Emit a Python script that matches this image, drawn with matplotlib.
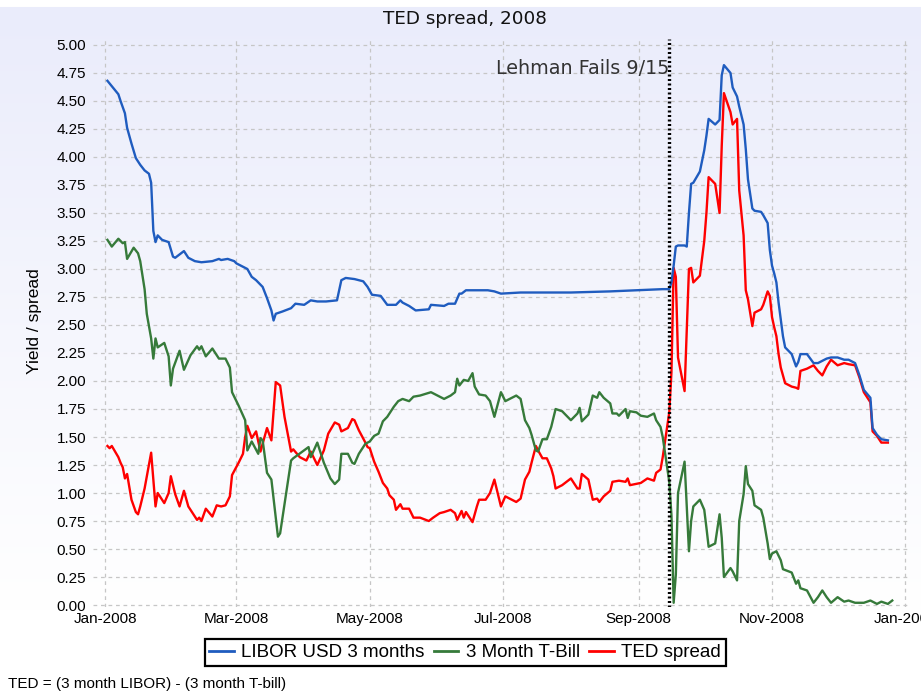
import matplotlib
matplotlib.use("Agg")
import matplotlib.pyplot as plt
import matplotlib.dates as mdates
import numpy as np
import pandas as pd

# ---------------- data ----------------
libor_dates = [
    "01-02", "01-07", "01-08", "01-10", "01-11", "01-13", "01-15", "01-17", "01-19", "01-21",
    "01-22", "01-23", "01-24", "01-25", "01-27", "01-30", "02-01", "02-02", "02-06", "02-08",
    "02-11", "02-14", "02-19", "02-22", "02-23", "02-26", "02-29", "03-01", "03-06", "03-08",
    "03-10", "03-13", "03-15", "03-17", "03-18", "03-19", "03-22", "03-26", "03-28", "04-01",
    "04-04", "04-07", "04-11", "04-16", "04-18", "04-20", "04-24", "04-28", "04-30", "05-02",
    "05-06", "05-09", "05-13", "05-15", "05-16", "05-19", "05-22", "05-28", "05-29", "06-04",
    "06-06", "06-09", "06-11", "06-12", "06-14", "06-17", "06-24", "06-27", "06-30", "07-09",
    "07-16", "08-01", "08-19", "09-12", "09-15", "09-16", "09-17", "09-18", "09-19", "09-22",
    "09-23", "09-24", "09-25", "09-26", "09-29", "10-01", "10-02", "10-03", "10-06", "10-08",
    "10-09", "10-10", "10-13", "10-14", "10-16", "10-17", "10-19", "10-20", "10-21", "10-23",
    "10-24", "10-27", "10-28", "10-30", "10-31", "11-01", "11-02", "11-03", "11-04", "11-05",
    "11-06", "11-07", "11-10", "11-12", "11-13", "11-14", "11-17", "11-20", "11-22", "11-24",
    "11-26", "11-28", "12-01", "12-04", "12-06", "12-09", "12-11", "12-13", "12-16", "12-17",
    "12-19", "12-21", "12-24",
]
libor_vals = [
    4.68, 4.56, 4.50, 4.39, 4.26, 4.12, 3.99, 3.93, 3.88, 3.85,
    3.77, 3.34, 3.24, 3.30, 3.26, 3.24, 3.11, 3.10, 3.16, 3.10,
    3.07, 3.06, 3.07, 3.09, 3.08, 3.09, 3.07, 3.05, 3.00, 2.93,
    2.90, 2.84, 2.74, 2.63, 2.54, 2.60, 2.62, 2.65, 2.69, 2.68,
    2.72, 2.71, 2.71, 2.72, 2.90, 2.92, 2.91, 2.89, 2.84, 2.77,
    2.76, 2.68, 2.68, 2.72, 2.70, 2.67, 2.63, 2.64, 2.68, 2.67,
    2.69, 2.69, 2.78, 2.78, 2.81, 2.81, 2.81, 2.80, 2.78, 2.79,
    2.79, 2.79, 2.80, 2.82, 2.82, 2.88, 3.03, 3.20, 3.21, 3.21,
    3.20, 3.50, 3.76, 3.77, 3.87, 4.06, 4.19, 4.34, 4.29, 4.33,
    4.73, 4.82, 4.75, 4.62, 4.54, 4.45, 4.29, 4.07, 3.80, 3.54,
    3.52, 3.51, 3.48, 3.41, 3.17, 3.03, 2.96, 2.88, 2.70, 2.55,
    2.40, 2.30, 2.24, 2.13, 2.17, 2.24, 2.24, 2.16, 2.16, 2.18,
    2.20, 2.21, 2.21, 2.19, 2.19, 2.16, 2.05, 1.92, 1.85, 1.58,
    1.52, 1.48, 1.47,
]

tbill_dates = [
    "01-02", "01-04", "01-07", "01-09", "01-10", "01-11", "01-14", "01-16", "01-17", "01-19",
    "01-20", "01-22", "01-23", "01-24", "01-25", "01-28", "01-30", "01-31", "02-01", "02-04",
    "02-06", "02-09", "02-12", "02-13", "02-14", "02-16", "02-19", "02-22", "02-25", "02-27",
    "02-28", "03-02", "03-05", "03-06", "03-08", "03-11", "03-12", "03-13", "03-15", "03-17",
    "03-20", "03-21", "03-26", "03-27", "04-03", "04-04", "04-07", "04-10", "04-13", "04-15",
    "04-17", "04-18", "04-21", "04-23", "04-24", "04-26", "04-29", "05-01", "05-03", "05-05",
    "05-07", "05-09", "05-12", "05-14", "05-16", "05-19", "05-21", "05-24", "05-29", "06-01",
    "06-04", "06-07", "06-09", "06-10", "06-11", "06-13", "06-15", "06-17", "06-18", "06-20",
    "06-23", "06-25", "06-27", "06-30", "07-02", "07-07", "07-09", "07-11", "07-13", "07-14",
    "07-16", "07-17", "07-19", "07-21", "07-23", "07-25", "07-28", "08-01", "08-04", "08-05",
    "08-06", "08-09", "08-11", "08-13", "08-14", "08-16", "08-19", "08-20", "08-22", "08-23",
    "08-26", "08-27", "08-28", "08-31", "09-02", "09-05", "09-08", "09-09", "09-11", "09-12",
    "09-15", "09-16", "09-17", "09-18", "09-19", "09-22", "09-24", "09-25", "09-26", "09-29",
    "10-01", "10-02", "10-03", "10-06", "10-08", "10-09", "10-10", "10-13", "10-14", "10-16",
    "10-17", "10-19", "10-20", "10-21", "10-23", "10-24", "10-27", "10-28", "10-30", "10-31",
    "11-01", "11-03", "11-05", "11-06", "11-10", "11-12", "11-13", "11-14", "11-17", "11-20",
    "11-22", "11-24", "11-26", "11-28", "12-01", "12-04", "12-06", "12-09", "12-13", "12-16",
    "12-19", "12-21", "12-24", "12-26",
]
tbill_vals = [
    3.26, 3.20, 3.27, 3.23, 3.24, 3.09, 3.19, 3.14, 3.07, 2.82,
    2.60, 2.38, 2.20, 2.38, 2.30, 2.34, 2.22, 1.96, 2.11, 2.27,
    2.10, 2.23, 2.31, 2.28, 2.31, 2.22, 2.29, 2.20, 2.20, 2.12,
    1.90, 1.78, 1.65, 1.38, 1.46, 1.35, 1.49, 1.47, 1.18, 1.12,
    0.61, 0.64, 1.29, 1.31, 1.41, 1.32, 1.45, 1.27, 1.13, 1.08,
    1.12, 1.35, 1.35, 1.27, 1.26, 1.35, 1.44, 1.46, 1.51, 1.53,
    1.64, 1.68, 1.77, 1.82, 1.84, 1.82, 1.86, 1.87, 1.90, 1.87,
    1.84, 1.87, 1.90, 2.02, 1.96, 2.01, 2.00, 2.07, 1.95, 1.88,
    1.87, 1.82, 1.68, 1.90, 1.82, 1.87, 1.84, 1.65, 1.58, 1.52,
    1.38, 1.37, 1.48, 1.48, 1.59, 1.75, 1.73, 1.65, 1.71, 1.76,
    1.64, 1.70, 1.87, 1.85, 1.90, 1.85, 1.80, 1.71, 1.71, 1.69,
    1.75, 1.67, 1.73, 1.72, 1.69, 1.68, 1.71, 1.65, 1.59, 1.50,
    1.10, 0.80, 0.02, 0.27, 1.00, 1.28, 0.48, 0.75, 0.88, 0.94,
    0.85, 0.69, 0.52, 0.55, 0.81, 0.60, 0.25, 0.33, 0.30, 0.22,
    0.75, 0.99, 1.24, 1.08, 1.02, 0.89, 0.85, 0.78, 0.55, 0.41,
    0.46, 0.48, 0.40, 0.32, 0.29, 0.19, 0.22, 0.15, 0.13, 0.02,
    0.07, 0.13, 0.07, 0.02, 0.07, 0.03, 0.04, 0.02, 0.02, 0.04,
    0.01, 0.03, 0.01, 0.04,
]

ted_dates = [
    "01-02", "01-03", "01-04", "01-07", "01-08", "01-09", "01-10", "01-11", "01-13", "01-15",
    "01-16", "01-17", "01-19", "01-22", "01-24", "01-25", "01-28", "01-30", "01-31", "02-02",
    "02-04", "02-06", "02-08", "02-12", "02-13", "02-14", "02-16", "02-19", "02-21", "02-23",
    "02-25", "02-27", "02-28", "03-02", "03-04", "03-05", "03-06", "03-08", "03-10", "03-12",
    "03-15", "03-17", "03-19", "03-21", "03-23", "03-26", "03-27", "03-30", "04-02", "04-04",
    "04-07", "04-10", "04-12", "04-15", "04-17", "04-18", "04-21", "04-23", "04-24", "04-26",
    "04-29", "04-30", "05-01", "05-03", "05-05", "05-07", "05-09", "05-10", "05-12", "05-13",
    "05-15", "05-16", "05-19", "05-21", "05-24", "05-28", "05-30", "06-02", "06-04", "06-07",
    "06-09", "06-10", "06-12", "06-13", "06-14", "06-17", "06-19", "06-20", "06-23", "06-25",
    "06-27", "06-30", "07-02", "07-07", "07-09", "07-11", "07-13", "07-14", "07-16", "07-17",
    "07-19", "07-21", "07-23", "07-24", "07-25", "07-28", "08-01", "08-04", "08-05", "08-06",
    "08-09", "08-11", "08-13", "08-14", "08-16", "08-19", "08-20", "08-23", "08-26", "08-27",
    "08-28", "09-02", "09-05", "09-08", "09-09", "09-11", "09-12", "09-15", "09-16", "09-17",
    "09-18", "09-19", "09-22", "09-24", "09-25", "09-26", "09-29", "10-01", "10-02", "10-03",
    "10-06", "10-08", "10-09", "10-10", "10-13", "10-14", "10-16", "10-17", "10-19", "10-20",
    "10-21", "10-23", "10-24", "10-27", "10-28", "10-30", "10-31", "11-01", "11-02", "11-03",
    "11-04", "11-05", "11-07", "11-10", "11-12", "11-13", "11-14", "11-17", "11-20", "11-22",
    "11-24", "11-26", "11-28", "12-01", "12-04", "12-06", "12-09", "12-11", "12-13", "12-16",
    "12-17", "12-19", "12-21", "12-24",
]
ted_vals = [
    1.42, 1.40, 1.42, 1.32, 1.27, 1.23, 1.13, 1.17, 0.94, 0.83,
    0.81, 0.88, 1.04, 1.36, 0.88, 1.00, 0.91, 1.00, 1.15, 0.99,
    0.88, 1.02, 0.88, 0.76, 0.78, 0.75, 0.86, 0.79, 0.89, 0.88,
    0.89, 0.97, 1.16, 1.27, 1.35, 1.50, 1.60, 1.49, 1.55, 1.37,
    1.58, 1.47, 1.99, 1.96, 1.68, 1.37, 1.39, 1.32, 1.29, 1.37,
    1.25, 1.38, 1.53, 1.63, 1.61, 1.55, 1.58, 1.66, 1.65, 1.56,
    1.45, 1.41, 1.40, 1.28, 1.19, 1.09, 1.04, 0.98, 0.94, 0.85,
    0.90, 0.86, 0.86, 0.78, 0.78, 0.75, 0.78, 0.82, 0.83, 0.85,
    0.82, 0.76, 0.84, 0.78, 0.83, 0.74, 0.88, 0.94, 0.94, 1.00,
    1.12, 0.88, 0.97, 0.92, 0.95, 1.12, 1.19, 1.27, 1.42, 1.38,
    1.31, 1.31, 1.22, 1.15, 1.04, 1.07, 1.13, 1.04, 1.04, 1.17,
    1.12, 0.94, 0.95, 0.92, 0.97, 1.02, 1.10, 1.11, 1.10, 1.13,
    1.07, 1.09, 1.13, 1.11, 1.18, 1.21, 1.32, 1.72, 2.08, 3.01,
    2.93, 2.21, 1.91, 3.00, 3.01, 2.88, 2.94, 3.25, 3.50, 3.82,
    3.76, 3.50, 4.10, 4.57, 4.40, 4.29, 4.34, 3.70, 3.30, 2.81,
    2.73, 2.49, 2.61, 2.64, 2.68, 2.80, 2.76, 2.57, 2.48, 2.40,
    2.24, 2.12, 1.98, 1.95, 1.94, 1.93, 2.09, 2.11, 2.14, 2.09,
    2.05, 2.13, 2.19, 2.14, 2.16, 2.15, 2.14, 2.03, 1.90, 1.81,
    1.55, 1.51, 1.45, 1.45,
]

series_labels = ["LIBOR USD 3 months", "3 Month T-Bill", "TED spread"]
tick_months = ["2008-01-01", "2008-03-01", "2008-05-01", "2008-07-01",
               "2008-09-01", "2008-11-01", "2009-01-01"]
event_date = "2008-09-15"
event_label = "Lehman Fails 9/15"
title_text = "TED spread, 2008"
ylabel_text = "Yield / spread"
note_text = "TED = (3 month LIBOR) - (3 month T-bill)"


def to_dates(mmdd):
    return pd.to_datetime(["2008-" + s for s in mmdd])


# ---------------- figure ----------------
W, H = 921, 693
fig = plt.figure(figsize=(W / 100, H / 100), dpi=100)

# background gradient (lavender at top fading to white)
bg = fig.add_axes([0, 0, 1, 1], zorder=-10)
bg.axis("off")
rows = np.arange(H)
top_c = np.array([234, 236, 251]) / 255.0
t = np.clip((rows - 7) / (610 - 7), 0, 1)[:, None]
grad = top_c * (1 - t) + np.ones(3) * t
grad[:7] = 1.0
img = np.repeat(grad[:, None, :], 4, axis=1)
bg.imshow(img, aspect="auto", extent=[0, 1, 0, 1], origin="upper", interpolation="bilinear")
bg.set_xlim(0, 1)
bg.set_ylim(0, 1)

# main axes (pixel geometry from reference)
ax_left, ax_right, ax_top, ax_bot = 93, 908, 38.8, 606.7
ax = fig.add_axes([ax_left / W, (H - ax_bot) / H, (ax_right - ax_left) / W, (ax_bot - ax_top) / H])
ax.patch.set_alpha(0)
for sp in ax.spines.values():
    sp.set_visible(False)

c_blue, c_green, c_red = "#1f5cbf", "#367a3a", "#ff0000"
lw = 1.7
l_red, = ax.plot(to_dates(ted_dates), ted_vals, color=c_red, lw=lw, zorder=3, solid_joinstyle="round")
l_green, = ax.plot(to_dates(tbill_dates), tbill_vals, color=c_green, lw=lw, zorder=3, solid_joinstyle="round")
l_blue, = ax.plot(to_dates(libor_dates), libor_vals, color=c_blue, lw=lw, zorder=3.5, solid_joinstyle="round")

x0 = pd.Timestamp("2008-01-01") - pd.Timedelta(days=5.6)
x1 = pd.Timestamp("2008-01-01") + pd.Timedelta(days=367.2)
ax.set_xlim(x0, x1)
ax.set_ylim(-0.015, 5.055)

ax.set_yticks(np.arange(0, 5.01, 0.25))
ax.yaxis.set_major_formatter(matplotlib.ticker.FormatStrFormatter("%.2f"))
ax.set_xticks(pd.to_datetime(tick_months))
ax.xaxis.set_major_formatter(mdates.DateFormatter("%b-%Y"))
ax.tick_params(axis="both", length=0, labelsize=11, colors="black")
ax.tick_params(axis="y", pad=5)
ax.tick_params(axis="x", pad=4)
for lab in ax.get_xticklabels() + ax.get_yticklabels():
    lab.set_family(["Liberation Sans", "DejaVu Sans"])

ax.grid(True, color="#c6c6c6", linestyle=(0, (3, 3)), linewidth=0.9, zorder=0)
ax.set_axisbelow(True)

# Lehman line and label
ev = pd.Timestamp(event_date)
ax.axvline(ev, color="black", lw=2.4, linestyle=(0, (0.6, 0.75)), zorder=5, solid_capstyle="butt",
           dash_capstyle="butt")
ax.text(ev, 4.74, event_label, ha="right", va="baseline", fontsize=13.8, color="#333333",
        family=["DejaVu Sans"], zorder=6)

# title, y label, footnote
fig.text(465 / W, 1 - 19 / H, title_text, ha="center", va="center", fontsize=13.2,
         family=["DejaVu Sans"], color="#111111")
fig.text(35 / W, 1 - 321 / H, ylabel_text, ha="center", va="center", rotation=90, fontsize=12.5,
         family=["Liberation Sans", "DejaVu Sans"])
fig.text(8 / W, 1 - 684 / H, note_text, ha="left", va="center", fontsize=11,
         family=["Liberation Sans", "DejaVu Sans"])

leg = fig.legend([l_blue, l_green, l_red], series_labels, loc="center",
                 bbox_to_anchor=(465 / W, 1 - 652.5 / H), ncol=3, frameon=True, fancybox=False,
                 edgecolor="black", facecolor="white", framealpha=1, handlelength=1.3,
                 handletextpad=0.4, columnspacing=0.5, borderpad=0.25, borderaxespad=0,
                 prop={"family": ["Liberation Sans", "DejaVu Sans"], "size": 13.5})
leg.get_frame().set_linewidth(1.6)
for h in leg.legend_handles:
    h.set_linewidth(2.0)

fig.savefig("out.png", dpi=100)
